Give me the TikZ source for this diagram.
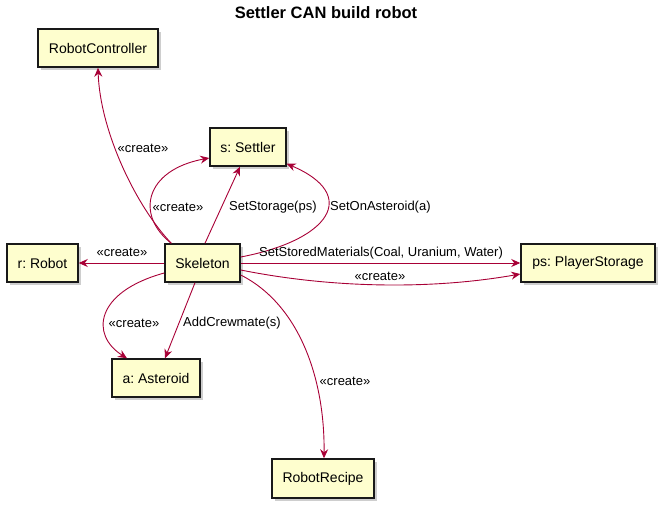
\documentclass[tikz,border=0pt]{standalone}
\usepackage{fontspec}
\setmainfont{Liberation Sans}
\usetikzlibrary{arrows.meta,shadows}
\definecolor{umlfill}{HTML}{FEFECE}
\definecolor{umlline}{HTML}{A80036}
\frenchspacing
\tikzset{
  obj/.style={draw=black!90, line width=1.5pt, fill=umlfill, minimum height=38pt,
    inner sep=0pt, font=\fontsize{14}{16}\selectfont,
    drop shadow={shadow xshift=3pt, shadow yshift=-3pt, fill=black!35, opacity=0.55}},
  link/.style={draw=umlline, line width=0.9pt, -{Stealth[length=9pt,width=8pt,inset=3pt]}},
  lbl/.style={font=\fontsize{13}{15}\selectfont, inner sep=0pt}
}
\begin{document}
\begin{tikzpicture}[x=1pt,y=-1pt]
\useasboundingbox (0,0) rectangle (665,508);
\node[font=\bfseries\fontsize{16.5}{18}\selectfont] (title) at (326,13) {Settler CAN build robot};

\node[obj, minimum width=120pt] (rc) at (98,48) {RobotController};
\node[obj, minimum width=76pt] (s) at (248,147) {s: Settler};
\node[obj, minimum width=71pt] (r) at (42.5,263) {r: Robot};
\node[obj, minimum width=75pt] (sk) at (202.5,263) {Skeleton};
\node[obj, minimum width=88pt] (a) at (156,378) {a: Asteroid};
\node[obj, minimum width=134pt] (ps) at (588,263) {ps: PlayerStorage};
\node[obj, minimum width=102pt, minimum height=39pt] (rr) at (323,478.5) {RobotRecipe};

% Skeleton -> RobotController
\draw[link] ([xshift=7pt]sk.north west) .. controls (135,205) and (100,130) .. (rc.south);
\node[lbl] (l1) at (143,148) {«create»};
% Skeleton -> Settler create
\draw[link] ([xshift=7pt]sk.north west) .. controls (135,215) and (145,170) .. ([yshift=-11pt]s.west);
\node[lbl] (l2) at (178,207) {«create»};
% SetStorage
\draw[link] ([xshift=2.5pt]sk.north) -- ([xshift=-8pt]s.south);
\node[lbl, anchor=west] (l3) at (229,207) {SetStorage(ps)};
% SetOnAsteroid
\draw[link] ([yshift=6pt]sk.east) .. controls (330,240) and (360,195) .. ([yshift=3pt]s.south east);
\node[lbl, anchor=west] (l4) at (330,207) {SetOnAsteroid(a)};
% Robot
\draw[link] (sk.west) -- (r.east);
\node[lbl] (l5) at (122,252) {«create»};
% SetStoredMaterials
\draw[link] (sk.east) -- (ps.west);
\node[lbl] (l6) at (381,253) {SetStoredMaterials(Coal, Uranium, Water)};
% PlayerStorage create
\draw[link] ([yshift=-7pt]sk.east) .. controls (330,288) and (430,290) .. ([yshift=-11pt]ps.west);
\node[lbl] (l7) at (380,276) {«create»};
% Asteroid create
\draw[link] ([yshift=-10pt]sk.west) .. controls (95,292) and (90,335) .. ([xshift=-29pt]a.north);
\node[lbl] (l8) at (134,323) {«create»};
% AddCrewmate
\draw[link] ([xshift=-7.5pt]sk.south) -- ([xshift=9pt]a.north);
\node[lbl, anchor=west] (l9) at (183,323) {AddCrewmate(s)};
% RobotRecipe
\draw[link] ([yshift=-12pt]sk.east) .. controls (300,305) and (325,380) .. ([xshift=1pt]rr.north);
\node[lbl] (l10) at (345,381) {«create»};
\end{tikzpicture}
\end{document}
